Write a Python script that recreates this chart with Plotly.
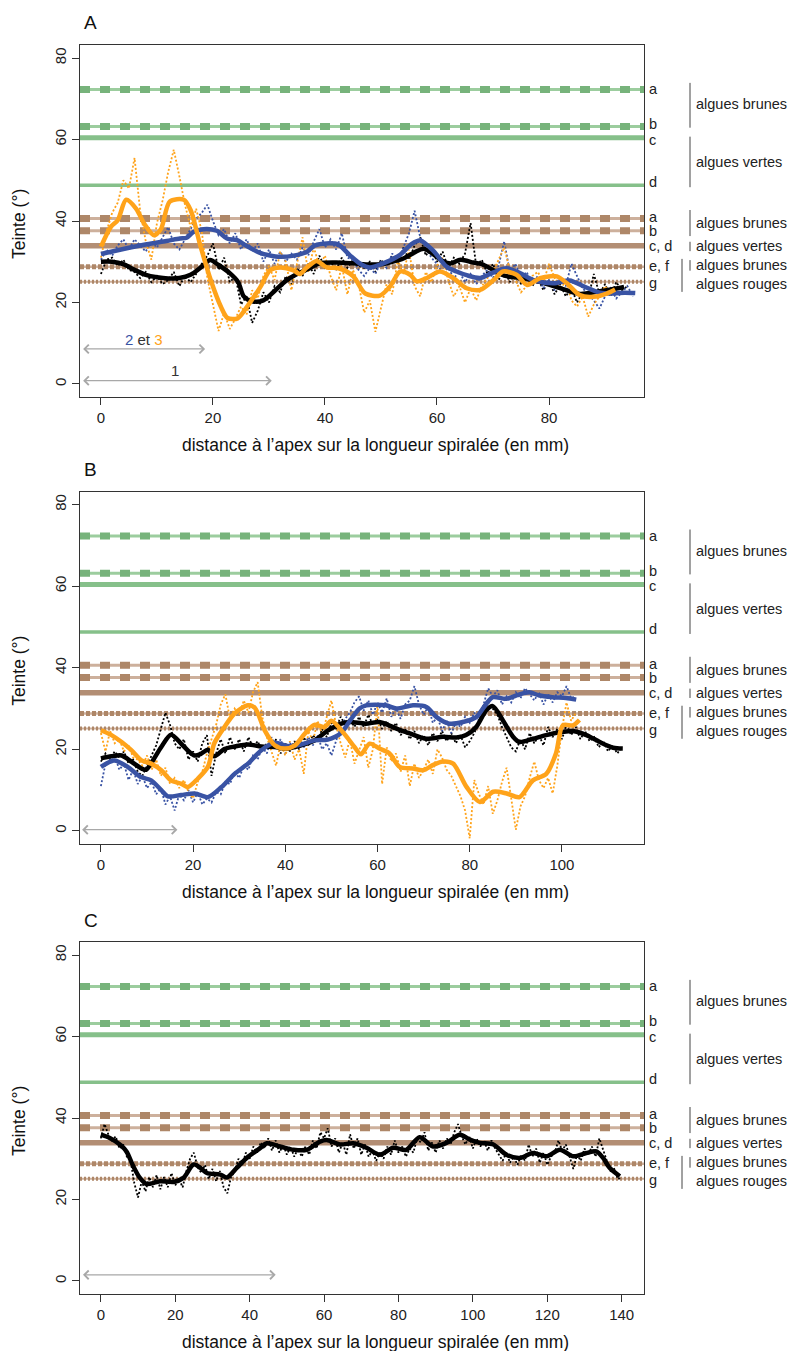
import numpy as np
import plotly.graph_objects as go

# ---------------- data (hue in degrees vs distance to apex, mm) ----------------
# panel A - raw profiles, 1 mm steps
a_black_raw = [27.0, 30.5, 31.0, 29.0, 30.5, 28.0, 27.5, 26.0, 27.5, 25.0, 26.5, 24.5, 25.5, 27.5, 24.0, 26.5,
               25.0, 27.0, 29.5, 31.5, 34.5, 28.0, 31.0, 25.0, 26.5, 19.5, 21.5, 15.0, 18.0, 22.5, 20.0, 24.0,
               22.5, 26.5, 24.5, 28.5, 26.5, 29.5, 27.0, 31.5, 28.5, 30.0, 28.0, 31.0, 28.5, 30.5, 29.0, 28.5,
               30.0, 27.5, 30.5, 29.0, 31.5, 29.5, 33.5, 30.5, 34.0, 36.0, 31.5, 33.5, 30.0, 32.5, 28.5, 31.0,
               29.5, 32.0, 39.5, 29.0, 30.5, 27.0, 29.5, 25.5, 28.0, 25.0, 27.5, 24.5, 26.5, 24.0, 26.0, 23.0,
               25.5, 22.0, 24.5, 21.5, 23.5, 20.0, 22.5, 21.0, 27.0, 22.0, 24.5, 21.5, 25.0, 23.0, 24.0]
a_blue_raw = [30.5, 33.0, 31.5, 34.0, 35.5, 33.0, 35.5, 34.0, 32.5, 35.0, 33.5, 36.0, 38.5, 34.5, 33.0, 35.5,
              38.0, 40.5, 42.0, 44.0, 40.0, 36.5, 38.0, 34.5, 37.0, 33.0, 35.5, 32.5, 34.5, 30.0, 33.0, 29.5,
              32.5, 30.0, 32.0, 30.5, 33.5, 31.5, 35.0, 38.0, 33.5, 35.5, 33.0, 37.0, 31.0, 30.5, 28.0, 26.5,
              28.5, 27.0, 30.0, 28.5, 32.0, 30.0, 33.5, 37.0, 42.5, 36.0, 33.5, 31.0, 29.5, 27.0, 28.5, 26.0,
              27.5, 25.0, 27.0, 24.5, 26.5, 28.0, 26.0, 29.0, 35.0, 27.5, 29.5, 26.0, 27.5, 24.5, 26.5, 23.5,
              25.5, 23.0, 26.0, 24.0, 29.5, 26.5, 23.5, 22.0, 20.5, 18.5, 21.5, 23.5, 21.0, 22.5, 24.0, 21.5]
a_orange_raw = [31.0, 37.5, 42.0, 44.5, 50.0, 48.0, 55.5, 42.5, 35.0, 30.5, 39.5, 45.0, 52.0, 57.5, 51.0, 44.0,
                38.5, 43.0, 37.5, 26.0, 19.5, 13.0, 17.5, 13.5, 16.0, 19.0, 17.0, 23.0, 21.0, 26.5, 29.0, 25.5,
                32.5, 30.0, 23.0, 29.5, 36.0, 27.5, 33.5, 29.0, 31.5, 26.5, 23.0, 29.0, 22.0, 28.0, 24.5, 17.5,
                20.5, 12.8, 19.0, 24.5, 22.0, 30.5, 27.0, 33.0, 24.0, 21.5, 27.5, 25.0, 29.0, 31.0, 25.5, 21.5,
                24.0, 20.0, 23.5, 20.5, 24.0, 26.0, 27.5, 30.5, 33.5, 28.0, 25.5, 22.5, 24.0, 26.5, 27.5, 25.0,
                29.5, 26.0, 23.0, 25.5, 20.5, 19.0, 21.5, 16.5, 19.5, 21.5, 24.0, 22.0, 23.5]

# panel A - smoothed profiles
a_black_x = [0, 2, 4, 6, 8, 10, 12, 14, 16, 18, 19.5, 21, 23, 24.5, 25.5, 27, 29, 31, 33, 35, 37, 39, 42, 45,
             48, 50, 52, 54, 56, 57.6, 59, 61, 62.5, 64.2, 66.5, 68, 70, 72, 75, 78.5, 82, 85.5, 88.5, 91.5, 93.4]
a_black_y = [30.0, 30.0, 29.4, 28.0, 26.8, 26.2, 25.9, 26.0, 26.8, 28.8, 30.4, 29.2, 27.2, 25.0, 21.5, 20.3,
             20.5, 22.8, 25.3, 27.0, 28.2, 29.6, 29.8, 29.6, 29.3, 29.4, 30.0, 30.8, 32.3, 33.2, 32.2, 30.2,
             29.6, 30.5, 29.8, 29.4, 28.0, 26.6, 26.0, 25.0, 23.5, 22.1, 22.6, 23.3, 23.8]
a_blue_x = [0, 2, 4.6, 8.2, 11.7, 14.1, 15.3, 16.5, 18.3, 20.7, 22.5, 24.3, 26.1, 28.4, 30, 32, 34.4, 36.7,
            38.2, 40.3, 42.4, 44.5, 46.5, 48, 50.4, 53.4, 55.5, 57, 59.4, 61.7, 63.5, 65.3, 67.7, 70.1, 72.4,
            74.8, 77.2, 80.8, 83.7, 86.1, 89.1, 91.5, 93.5, 95.4]
a_blue_y = [31.9, 32.5, 33.3, 34.3, 35.1, 35.7, 35.9, 37.3, 38.0, 37.6, 35.7, 35.3, 33.8, 32.2, 31.6, 31.2,
            31.5, 32.4, 34.0, 34.5, 34.2, 31.5, 29.3, 28.6, 29.6, 31.7, 34.4, 35.2, 32.6, 28.8, 27.6, 26.7,
            26.0, 27.4, 28.4, 27.2, 25.5, 24.7, 25.4, 24.0, 22.4, 22.2, 22.4, 22.3]
a_orange_x = [0, 1.8, 3.0, 4.5, 6.3, 7.7, 9.5, 10.7, 12.3, 14.8, 16.0, 17.8, 19.6, 21.4, 22.6, 24.4, 26.1,
              28.5, 30.2, 32, 34.4, 35.5, 36.7, 38.5, 40.3, 42.4, 45.0, 47.2, 49.8, 51.6, 53.4, 55.2, 56.4,
              58.2, 60.5, 62.9, 65.3, 67.7, 70.1, 71.8, 74.2, 76.1, 78.4, 81.4, 83.2, 85.5, 87.9, 90.3, 91.8]
a_orange_y = [33.7, 38.6, 40.2, 45.2, 43.0, 39.4, 36.5, 38.0, 44.8, 45.2, 42.7, 33.7, 25.5, 19.0, 16.2, 16.1,
              19.0, 23.9, 27.9, 28.6, 27.9, 27.0, 28.5, 30.2, 28.6, 28.4, 26.5, 22.2, 21.7, 23.9, 27.6, 26.8,
              25.2, 26.0, 27.6, 26.0, 23.5, 23.1, 25.5, 27.6, 26.8, 24.3, 26.0, 26.4, 24.7, 21.8, 21.4, 22.2, 23.2]

# panel B - raw profiles
b_black_raw = [17.0, 19.0, 17.5, 19.5, 18.0, 19.5, 16.5, 17.5, 14.5, 13.5, 16.0, 18.5, 21.0, 25.0, 29.0, 26.0,
               21.5, 20.0, 22.5, 17.5, 19.5, 17.0, 21.5, 23.5, 13.5, 19.0, 22.5, 19.0, 23.0, 20.0, 22.5, 19.5,
               23.0, 20.5, 22.0, 19.5, 21.5, 20.0, 22.5, 19.0, 21.5, 19.5, 22.0, 20.0, 23.0, 21.0, 23.5, 22.0,
               25.0, 23.0, 26.5, 25.0, 28.0, 26.0, 27.5, 25.5, 28.0, 25.5, 28.5, 26.0, 27.5, 25.0, 27.0, 24.5,
               26.5, 23.5, 25.0, 22.5, 24.5, 21.5, 23.5, 21.0, 24.0, 22.0, 24.5, 22.0, 24.0, 21.5, 23.5, 20.5,
               22.0, 24.0, 27.0, 29.5, 31.5, 30.0, 28.5, 25.5, 23.0, 20.5, 19.5, 22.5, 20.0, 24.0, 21.5, 23.5,
               21.0, 25.5, 23.0, 25.0, 22.5, 26.0, 23.5, 25.5, 22.5, 24.5, 22.0, 23.0, 20.5, 22.0, 19.5, 21.0,
               19.0, 20.5]
b_blue_raw = [11.0, 16.5, 17.5, 18.5, 15.0, 16.5, 12.5, 15.0, 11.5, 13.5, 10.5, 12.0, 9.0, 10.5, 6.5, 8.5,
              5.0, 9.0, 7.5, 10.0, 7.0, 9.5, 6.5, 8.0, 7.0, 9.5, 9.0, 12.0, 11.5, 14.5, 13.0, 16.0,
              15.0, 18.5, 17.5, 20.5, 19.0, 23.0, 20.5, 22.5, 19.0, 21.5, 20.0, 22.5, 20.5, 23.0, 21.0, 23.5,
              20.0, 21.5, 18.5, 22.0, 25.5, 27.5, 29.0, 31.5, 33.0, 29.5, 32.0, 28.5, 31.5, 29.0, 32.5, 28.0,
              30.0, 27.5, 31.0, 32.0, 35.5, 31.0, 28.5, 30.5, 26.5, 28.0, 24.5, 27.0, 24.0, 26.5, 25.5, 28.0,
              26.5, 29.0, 27.0, 31.0, 35.0, 33.0, 34.5, 31.0, 33.0, 31.5, 34.0, 32.5, 35.0, 33.5, 32.0, 34.0,
              31.0, 33.5, 31.5, 34.0, 33.0, 35.5, 32.5, 33.0]
b_orange_raw = [24.0, 19.5, 24.5, 21.5, 22.5, 19.5, 21.0, 18.0, 17.5, 16.0, 18.5, 15.0, 17.5, 13.5, 15.5, 11.5,
                13.0, 10.5, 12.5, 9.5, 8.0, 12.0, 14.5, 19.0, 22.5, 26.0, 31.0, 33.5, 27.5, 30.0, 28.5, 32.0,
                29.0, 34.0, 36.5, 28.0, 23.0, 19.5, 16.0, 21.5, 18.5, 22.0, 17.5, 20.0, 14.0, 24.5, 22.0, 27.0,
                23.5, 28.0, 32.0, 26.0, 21.5, 18.0, 22.5, 16.5, 19.5, 23.0, 15.5, 20.0, 31.0, 11.5, 20.5, 17.0,
                19.0, 14.5, 18.5, 11.0, 16.5, 13.0, 15.0, 17.5, 14.0, 20.0, 18.0, 15.0, 13.5, 11.0, 8.5, 5.0,
                -1.8, 12.5, 9.0, 6.5, 11.0, 4.2, 7.5, 12.0, 15.5, 8.0, 0.3, 6.0, 8.5, 13.0, 17.0, 12.5,
                10.5, 13.0, 9.2, 16.0, 25.0, 31.5, 27.0, 29.0]

# panel B - smoothed profiles
b_black_x = [0, 2.3, 4.5, 6.6, 8.8, 9.8, 11, 13.1, 15.2, 17.4, 18.8, 20.3, 21.7, 23.2, 24.6, 26.8, 29, 31.9,
             34.8, 37.7, 40.6, 43.4, 46.3, 49.2, 52.1, 54, 57.5, 60.4, 64.1, 67, 70.6, 74.2, 77.1, 79.2, 81.4,
             83.6, 85, 87.2, 89.4, 90.8, 93.7, 96.6, 100.2, 102.4, 105.3, 108.2, 111.1, 113.2]
b_black_y = [17.8, 18.3, 18.5, 17.0, 15.3, 15.0, 16.8, 20.6, 23.6, 21.4, 19.8, 18.5, 18.9, 19.9, 18.3, 20.1,
             20.7, 21.2, 20.7, 20.6, 20.2, 21.0, 22.2, 24.6, 26.3, 26.7, 26.3, 26.7, 25.1, 23.9, 22.6, 23.1,
             22.9, 23.5, 25.5, 29.6, 30.6, 27.1, 23.1, 21.8, 22.6, 23.5, 24.3, 24.5, 23.5, 21.8, 20.4, 20.2]
b_blue_x = [0, 2.9, 5.8, 8.7, 10.9, 13.1, 14.5, 17.4, 20.3, 23.2, 26.1, 29, 31.9, 34.8, 37.7, 40.6, 43.4,
            46.3, 49.2, 52.1, 54, 56.1, 57.5, 61.8, 64.1, 67.7, 70.6, 72.8, 75.6, 78.5, 81.4, 83.6, 85, 87.9,
            90.8, 92.9, 95.1, 98, 100.9, 103.1]
b_blue_y = [15.7, 17.3, 15.7, 13.2, 12.4, 10.0, 8.5, 8.8, 9.2, 8.3, 10.7, 14.0, 16.5, 19.8, 21.6, 20.8, 21.2,
            22.2, 22.4, 24.0, 27.0, 30.0, 30.8, 30.8, 30.0, 30.8, 30.4, 27.9, 26.3, 26.7, 27.9, 31.2, 32.8,
            32.4, 33.5, 34.0, 33.2, 32.8, 32.6, 32.2]
b_orange_x = [0, 2.3, 4.5, 6.6, 8.8, 10.9, 13.1, 15.2, 17.4, 18.9, 21, 23.2, 24.6, 26.8, 29, 31.9, 33.4, 35.5,
              37.7, 39.9, 42.1, 44.2, 46.3, 48.5, 50, 52.8, 55, 56.4, 58.3, 60.4, 62.6, 64.8, 67.7, 69.9, 72.1,
              74.2, 76.4, 79.3, 82.2, 85.1, 88, 90.8, 93.7, 96.6, 98.7, 100.2, 102.4, 103.8]
b_orange_y = [24.7, 23.5, 21.8, 19.8, 17.3, 16.5, 14.9, 12.4, 11.6, 10.8, 12.8, 15.7, 21.5, 25.5, 28.8, 30.8,
              30.2, 24.7, 21.0, 20.2, 21.0, 23.8, 26.0, 25.5, 27.0, 23.8, 20.6, 18.8, 21.4, 20.2, 19.0, 15.7,
              15.3, 14.9, 16.2, 17.0, 16.5, 10.8, 7.1, 9.6, 9.2, 8.3, 12.4, 14.0, 19.0, 25.9, 25.9, 27.2]

# panel C - raw profile
c_black_raw = [35.0, 38.5, 36.0, 34.5, 35.5, 32.5, 33.5, 30.5, 29.5, 24.0, 20.5, 24.5, 22.0, 25.5, 23.0, 26.0,
               22.5, 25.5, 23.0, 26.5, 23.5, 25.0, 23.0, 27.0, 30.0, 31.5, 28.0, 26.5, 28.5, 25.0, 27.5, 24.5,
               27.0, 23.0, 21.5, 25.5, 27.0, 30.0, 28.5, 31.5, 30.0, 33.0, 31.5, 34.0, 32.5, 35.0, 32.0, 34.5,
               31.5, 33.5, 31.0, 33.0, 30.5, 32.5, 30.5, 33.0, 31.0, 34.5, 32.5, 36.5, 35.0, 37.5, 33.0, 35.0,
               31.5, 34.0, 31.0, 36.0, 32.5, 35.0, 31.0, 33.5, 30.5, 32.0, 29.5, 31.5, 30.0, 33.0, 31.0, 34.5,
               31.5, 33.0, 30.5, 32.5, 31.5, 35.0, 34.0, 36.5, 32.0, 34.0, 31.5, 34.5, 32.5, 35.0, 33.5, 36.5,
               38.5, 35.5, 33.5, 35.5, 32.5, 35.0, 33.0, 34.5, 32.0, 34.5, 32.5, 31.0, 29.5, 31.5, 29.0, 30.5,
               28.5, 31.0, 29.5, 33.5, 30.5, 32.5, 29.0, 31.5, 28.5, 30.5, 31.5, 34.5, 32.0, 33.5, 30.5, 27.5,
               31.0, 29.5, 32.5, 31.0, 33.0, 30.5, 35.0, 32.0, 29.5, 27.0, 27.5, 25.0, 25.5]
c_black_x = [0, 2.4, 5.1, 6.9, 8.7, 10.5, 12.3, 15.9, 19.5, 22.2, 24.9, 26.7, 28.5, 32.1, 33.9, 36.6, 39.2,
             42.8, 44.6, 48.2, 51.8, 55.4, 58.9, 60.7, 64.3, 67.9, 71.4, 75, 78.6, 82.1, 85.7, 89.3, 92.9, 96.5,
             99.2, 101.9, 105.5, 109, 112.6, 116.2, 119.8, 123.4, 127, 130.5, 133.2, 135, 136.8, 139.5]
c_black_y = [35.9, 35.1, 33.5, 31.8, 28.2, 25.3, 23.8, 24.5, 24.3, 25.3, 28.6, 27.8, 26.5, 26.1, 25.4, 27.8,
             30.2, 32.6, 33.8, 33.0, 32.2, 32.2, 34.2, 34.6, 33.5, 33.8, 32.7, 31.0, 32.7, 32.2, 35.3, 33.0,
             33.9, 35.9, 34.7, 33.9, 33.5, 31.0, 30.2, 31.4, 30.6, 32.2, 30.6, 31.4, 31.8, 30.2, 27.7, 25.7]

# reference hues of algae groups
green_levels = [72.3, 63.2, 60.45, 48.8]
brown_levels = [40.6, 37.6, 33.9, 28.8, 25.1]
class_letters = ["a", "b", "c", "d", "a", "b", "c, d", "e, f", "g"]
class_letter_y = [72.3, 63.7, 60.0, 49.5, 41.0, 37.5, 33.9, 29.0, 24.7]
group_names = ["algues brunes", "algues vertes", "algues brunes", "algues vertes", "algues brunes", "algues rouges"]
group_y = [68.7, 54.4, 39.5, 33.9, 29.2, 24.6]
group_bars = [(690, 73.9, 62.9), (690, 60.7, 48.3), (690, 42.7, 36.3), (690, 34.9, 32.6),
              (690, 30.4, 27.8), (682, 30.7, 22.6)]

# scale arrows (x from, x to, height)
arrows_a = [(-3.45, 18.6, 8.6), (-3.45, 30.5, 0.8)]
arrows_b = [(-4.4, 16.6, 0.3)]
arrows_c = [(-5.2, 47.0, 1.5)]

BLACK, BLUE, ORANGE = "#000000", "#3953a4", "#ffa31a"
GREEN_LT, GREEN_DK = "#9ccd9e", "#77b37b"
BROWN_LT, BROWN_DK = "#cdb09c", "#ae8768"
W, H = 792, 1351
PX0, PX1 = 80, 644
FONT = "Liberation Sans, Arial, sans-serif"

panels = [
    dict(name="A", top=45, bottom=397, xr=[-3.74, 96.96], xt=[0, 20, 40, 60, 80],
         raw=[(a_black_raw, BLACK), (a_blue_raw, BLUE), (a_orange_raw, ORANGE)],
         smooth=[(a_black_x, a_black_y, BLACK), (a_blue_x, a_blue_y, BLUE), (a_orange_x, a_orange_y, ORANGE)],
         arrows=arrows_a),
    dict(name="B", top=491.6, bottom=844, xr=[-4.53, 117.8], xt=[0, 20, 40, 60, 80, 100],
         raw=[(b_black_raw, BLACK), (b_blue_raw, BLUE), (b_orange_raw, ORANGE)],
         smooth=[(b_black_x, b_black_y, BLACK), (b_blue_x, b_blue_y, BLUE), (b_orange_x, b_orange_y, ORANGE)],
         arrows=arrows_b),
    dict(name="C", top=942, bottom=1294, xr=[-5.6, 146.0], xt=[0, 20, 40, 60, 80, 100, 120, 140],
         raw=[(c_black_raw, BLACK)],
         smooth=[(c_black_x, c_black_y, BLACK)],
         arrows=arrows_c),
]


def py(p):
    return 1 - p / H


def px(p):
    return p / W


def hline(fig, yref, y, color, width, dash="solid"):
    fig.add_shape(type="line", xref=yref.replace("y", "x") + " domain", x0=0, x1=1, yref=yref, y0=y, y1=y,
                  line=dict(color=color, width=width, dash=dash), layer="below")


fig = go.Figure()
layout = dict(width=W, height=H, margin=dict(l=0, r=0, t=0, b=0), plot_bgcolor="white",
              paper_bgcolor="white", showlegend=False, font=dict(family=FONT, size=15, color="#222"))

for i, p in enumerate(panels):
    n = "" if i == 0 else str(i + 1)
    xa, ya = "x" + n, "y" + n
    layout["xaxis" + n] = dict(domain=[px(PX0), px(PX1)], anchor=ya, range=p["xr"], tickvals=p["xt"],
                               ticks="outside", ticklen=7, tickcolor="#333", showline=True, mirror=True,
                               linecolor="#333", linewidth=1, showgrid=False, zeroline=False,
                               tickfont=dict(size=15, color="#222"))
    layout["yaxis" + n] = dict(domain=[py(p["bottom"]), py(p["top"])], anchor=xa, range=[-3.2, 83.2],
                               tickvals=[0, 20, 40, 60, 80], tickangle=-90, ticks="outside", ticklen=7,
                               tickcolor="#333", showline=True, mirror=True, linecolor="#333", linewidth=1,
                               showgrid=False, zeroline=False, tickfont=dict(size=15, color="#222"))

    # reference lines
    for k, lv in enumerate(green_levels):
        if k < 2:
            hline(fig, ya, lv, GREEN_LT, 3)
            hline(fig, ya, lv, GREEN_DK, 7, "10px,10px")
        elif k == 2:
            hline(fig, ya, lv, "#86c08a", 5)
        else:
            hline(fig, ya, lv, "#86c08a", 3.5)
    for k, lv in enumerate(brown_levels):
        if k < 2:
            hline(fig, ya, lv, BROWN_LT, 3)
            hline(fig, ya, lv, BROWN_DK, 7, "10px,10px")
        elif k == 2:
            hline(fig, ya, lv, "#b38e74", 5.5)
        elif k == 3:
            hline(fig, ya, lv, BROWN_LT, 2.5)
            hline(fig, ya, lv, BROWN_DK, 5, "4px,2px")
        else:
            hline(fig, ya, lv, BROWN_LT, 2)
            hline(fig, ya, lv, BROWN_DK, 4, "2px,2px")

    # profiles
    for vals, col in p["raw"]:
        fig.add_trace(go.Scatter(x=np.arange(len(vals)), y=vals, mode="lines", xaxis=xa, yaxis=ya,
                                 line=dict(color=col, width=1.8, dash="2px,2px")))
    for xs, ys, col in p["smooth"]:
        fig.add_trace(go.Scatter(x=xs, y=ys, mode="lines", xaxis=xa, yaxis=ya,
                                 line=dict(color=col, width=4.5, shape="spline", smoothing=0.8)))

    # scale arrows
    for x0, x1, yv in p["arrows"]:
        fig.add_annotation(x=x1, y=yv, ax=x0, ay=yv, xref=xa, yref=ya, axref=xa, ayref=ya, text="",
                           showarrow=True, arrowside="end+start", arrowhead=4, arrowsize=1.4,
                           arrowwidth=1.2, arrowcolor="#a8a8a8", standoff=0, startstandoff=0)

    # right-hand classification labels
    for t, yv in zip(class_letters, class_letter_y):
        fig.add_annotation(x=px(648), y=yv, xref="paper", yref=ya, text=t, showarrow=False,
                           xanchor="left", yanchor="middle", borderpad=0, font=dict(size=14.5, color="#222"))
    for t, yv in zip(group_names, group_y):
        fig.add_annotation(x=px(695), y=yv, xref="paper", yref=ya, text=t, showarrow=False,
                           xanchor="left", yanchor="middle", borderpad=0, font=dict(size=14.5, color="#222"))
    for bx, y0, y1 in group_bars:
        fig.add_shape(type="line", xref="paper", yref=ya, x0=px(bx), x1=px(bx), y0=y0, y1=y1,
                      line=dict(color="#444", width=1))

    # titles
    fig.add_annotation(x=px(82), y=py(p["top"] - 22), xref="paper", yref="paper", text=p["name"],
                       showarrow=False, xanchor="left", yanchor="middle", font=dict(size=19, color="#111"))
    fig.add_annotation(x=px(375), y=py(p["bottom"] + 48), xref="paper", yref="paper",
                       text="distance à l’apex sur la longueur spiralée (en mm)", showarrow=False,
                       xanchor="center", yanchor="middle", font=dict(size=17.5, color="#111"))
    fig.add_annotation(x=px(19), y=py((p["top"] + p["bottom"]) / 2 + 3), xref="paper", yref="paper",
                       text="Teinte (°)", textangle=-90, showarrow=False, xanchor="center",
                       yanchor="middle", font=dict(size=17.5, color="#111"))

# label of the arrows in panel A
fig.add_annotation(x=7.7, y=11.0, xref="x", yref="y", showarrow=False, font=dict(size=15, color="#333"),
                   text=f"<span style='color:{BLUE}'>2</span> et <span style='color:{ORANGE}'>3</span>")
fig.add_annotation(x=13.2, y=3.2, xref="x", yref="y", text="1", showarrow=False,
                   font=dict(size=15, color="#333"))

fig.update_layout(**layout)
# the page body keeps an 8px margin by default; drop it so the figure sits at the window origin
fig.write_html("out.html", config={"displayModeBar": False},
               post_script="document.body.style.margin='0';")
